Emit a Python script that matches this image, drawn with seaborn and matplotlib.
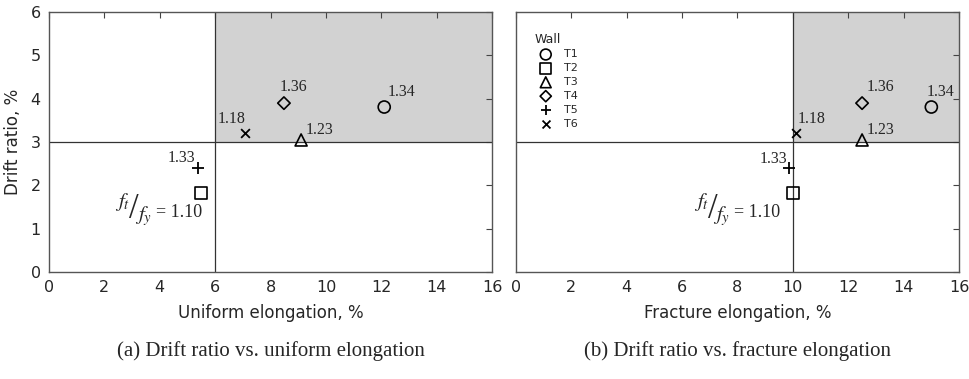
import matplotlib
matplotlib.use("Agg")
import matplotlib.pyplot as plt
import seaborn as sns
from matplotlib.patches import Rectangle

walls = ["T1", "T2", "T3", "T4", "T5", "T6"]
markers = ["o", "s", "^", "D", "+", "x"]
drift = [3.81, 1.82, 3.05, 3.9, 2.4, 3.2]
uniform_elong = [12.1, 5.49, 9.1, 8.48, 5.38, 7.08]
fracture_elong = [15.0, 10.02, 12.5, 12.5, 9.87, 10.1]
ratio_labels = ["1.34", "1.10", "1.23", "1.36", "1.33", "1.18"]

# label offsets in pixels (dx, dy), per panel
offs_a = [(17, 15), None, (18, 10), (10, 16), (-17, 10), (-14, 14)]
offs_b = [(9, 15), None, (18, 10), (18, 16), (-16, 9), (16, 14)]

sns.set_style("white")
plt.rcParams["font.family"] = ["DejaVu Sans"]
plt.rcParams["mathtext.fontset"] = "stix"

fig, axes = plt.subplots(1, 2, figsize=(9.70, 3.79), dpi=100)
fig.subplots_adjust(left=0.0505, right=0.9887, top=0.968, bottom=0.282, wspace=0.053)

panels = [
    (axes[0], uniform_elong, 6, offs_a, 1, "Uniform elongation, %", "(a) Drift ratio vs. uniform elongation"),
    (axes[1], fracture_elong, 10, offs_b, -13, "Fracture elongation, %", "(b) Drift ratio vs. fracture elongation"),
]


def pix_text(ax, xy, dx, dy, s, **kw):
    ax.annotate(s, xy, xytext=(dx, dy), textcoords="offset pixels", **kw)


for ax, xs, xlim_line, offs, rx, xlabel, caption in panels:
    ax.add_patch(Rectangle((xlim_line, 3), 16 - xlim_line, 3, facecolor="#d2d2d2",
                           edgecolor="none", zorder=0))
    ax.axvline(xlim_line, color="#333333", lw=0.9, zorder=1)
    ax.axhline(3, color="#333333", lw=0.9, zorder=1)
    for i, w in enumerate(walls):
        m = markers[i]
        if m in ["+", "x"]:
            sns.scatterplot(x=[xs[i]], y=[drift[i]], marker=m, s=70 if m == "+" else 40,
                            color="black", linewidth=1.3, label=w, ax=ax, zorder=3)
        else:
            sns.scatterplot(x=[xs[i]], y=[drift[i]], marker=m,
                            s=40 if m == "D" else 75,
                            facecolor="none", edgecolor="black", linewidth=1.2,
                            label=w, ax=ax, zorder=3)
        if offs[i] is not None:
            pix_text(ax, (xs[i], drift[i]), offs[i][0], offs[i][1], ratio_labels[i],
                     ha="center", va="center", fontsize=11.5, family="Liberation Serif")
    # f_t / f_y = 1.10 next to T2
    p = (xs[1], drift[1])
    pix_text(ax, p, rx, -19, "= 1.10", ha="right", va="center",
             fontsize=13, family="Liberation Serif")
    pix_text(ax, p, rx - 68, -16, "/", ha="center", va="center",
             fontsize=25, family="Liberation Serif")
    pix_text(ax, p, rx - 79, -9, r"$f_t$", ha="center", va="center", fontsize=15)
    pix_text(ax, p, rx - 59, -23, r"$f_y$", ha="center", va="center", fontsize=15)

    ax.set_xlim(0, 16)
    ax.set_ylim(0, 6)
    ax.set_xticks(range(0, 17, 2))
    ax.set_yticks(range(0, 7))
    ax.tick_params(direction="in", length=4, top=True, right=True, labelsize=11.5,
                   color="#444444", pad=6)
    for s in ax.spines.values():
        s.set_color("#555555")
        s.set_linewidth(1.0)
    ax.set_xlabel(xlabel, fontsize=12, labelpad=6)
    ax.text(0.5, -0.265, caption, transform=ax.transAxes, ha="center", va="top",
            fontsize=15, family="Liberation Serif")

axes[0].set_ylabel("Drift ratio, %", fontsize=12, labelpad=6)
axes[1].set_yticklabels([])
axes[0].get_legend().remove()
leg = axes[1].legend(title="Wall", loc="upper left", bbox_to_anchor=(0.02, 0.96),
                     frameon=False, fontsize=8, title_fontsize=9, handletextpad=0.6,
                     labelspacing=0.35, markerscale=0.9)
leg._legend_box.align = "left"

fig.savefig("out.png", dpi=100)
